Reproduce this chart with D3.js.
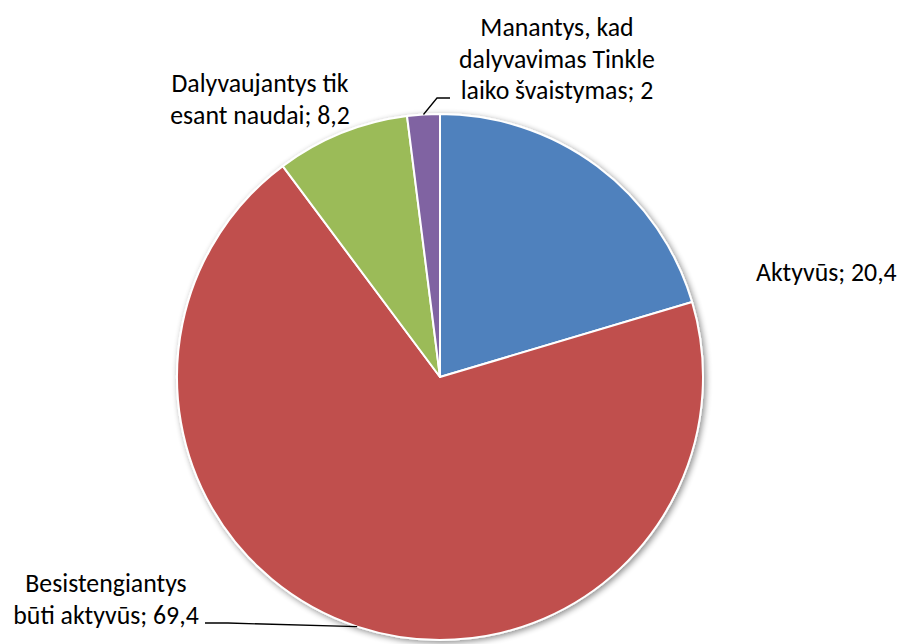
<!DOCTYPE html>
<html>
<head>
<meta charset="utf-8">
<script src="https://cdn.jsdelivr.net/npm/d3@7"></script>
<style>
  html, body { margin: 0; padding: 0; background: #fff; }
  svg { display: block; }
  text { font-family: Carlito, Calibri, Lato, "Open Sans", sans-serif; fill: #000; }
</style>
</head>
<body>
<svg id="chart" width="902" height="644"></svg>
<script>
// ---- data ----
const categories = ["Aktyvūs", "Besistengiantys būti aktyvūs", "Dalyvaujantys tik esant naudai", "Manantys, kad dalyvavimas Tinkle laiko švaistymas"];
const values = [20.4, 69.4, 8.2, 2];
const valueLabels = ["20,4", "69,4", "8,2", "2"];
const labelLines = [
  ["Aktyvūs; 20,4"],
  ["Besistengiantys", "būti aktyvūs; 69,4"],
  ["Dalyvaujantys tik", "esant naudai; 8,2"],
  ["Manantys, kad", "dalyvavimas Tinkle", "laiko švaistymas; 2"]
];
const colors = ["#4F81BD", "#C0504D", "#9BBB59", "#8064A2"];

// ---- layout ----
const svg = d3.select("#chart");
const cx = 440, cy = 377, r = 263;
const fontSize = 25.8, lineH = 31.5;

const defs = svg.append("defs");
const f = defs.append("filter").attr("id", "shadow").attr("x", "-10%").attr("y", "-10%").attr("width", "120%").attr("height", "120%");
f.append("feGaussianBlur").attr("in", "SourceAlpha").attr("stdDeviation", 3).attr("result", "b");
f.append("feOffset").attr("in", "b").attr("dx", 2).attr("dy", 2).attr("result", "o");
f.append("feComponentTransfer").attr("in", "o").attr("result", "s")
  .append("feFuncA").attr("type", "linear").attr("slope", 0.45);
const m = f.append("feMerge");
m.append("feMergeNode").attr("in", "s");
m.append("feMergeNode").attr("in", "SourceGraphic");

const pie = d3.pie().sort(null).value(d => d)(values);
const arc = d3.arc().innerRadius(0).outerRadius(r);
const edge = d3.arc().innerRadius(r).outerRadius(r);

const g = svg.append("g").attr("transform", `translate(${cx},${cy})`);
g.append("g").attr("filter", "url(#shadow)")
  .selectAll("path").data(pie).join("path")
  .attr("d", arc)
  .attr("fill", (d, i) => colors[i])
  .attr("stroke", "#fff")
  .attr("stroke-width", 2)
  .attr("stroke-linejoin", "round");

// label placement (anchor x, first baseline y, text-anchor)
const labelPos = [
  {x: 756, y: 281, anchor: "start"},
  {x: 106, y: 592, anchor: "middle"},
  {x: 260, y: 92, anchor: "middle"},
  {x: 557, y: 36, anchor: "middle"}
];
// leader elbows (null = no leader)
const leaderElbows = [
  null,
  [[205, 623], [228, 623]],
  null,
  [[450, 98], [437, 98]]
];

pie.forEach((d, i) => {
  const el = leaderElbows[i];
  if (!el) return;
  const p = edge.centroid(d);
  const end = [p[0] + cx, p[1] + cy];
  const pts = el.concat([end]);
  svg.append("path")
    .attr("d", d3.line()(pts))
    .attr("fill", "none")
    .attr("stroke", "#000")
    .attr("stroke-width", 1.3);
});

labelLines.forEach((lines, i) => {
  const lp = labelPos[i];
  const t = svg.append("text")
    .attr("x", lp.x).attr("y", lp.y)
    .attr("text-anchor", lp.anchor)
    .attr("font-size", fontSize);
  lines.forEach((ln, k) => {
    t.append("tspan").attr("x", lp.x).attr("y", lp.y + k * lineH).text(ln);
  });
});
</script>
</body>
</html>
